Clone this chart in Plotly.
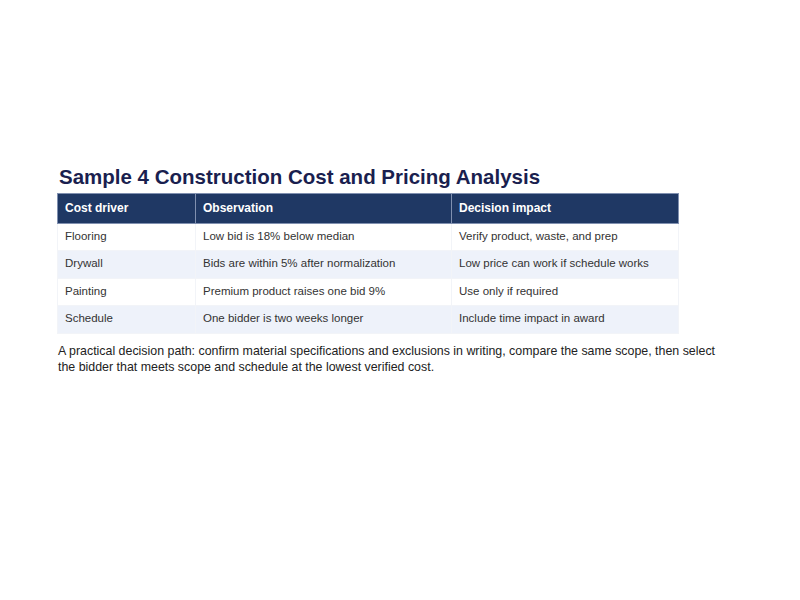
import plotly.graph_objects as go

title = "Sample 4 Construction Cost and Pricing Analysis"
columns = ["Cost driver", "Observation", "Decision impact"]
drivers = ["Flooring", "Drywall", "Painting", "Schedule"]
observations = [
    "Low bid is 18% below median",
    "Bids are within 5% after normalization",
    "Premium product raises one bid 9%",
    "One bidder is two weeks longer",
]
impacts = [
    "Verify product, waste, and prep",
    "Low price can work if schedule works",
    "Use only if required",
    "Include time impact in award",
]
note = ("A practical decision path: confirm material specifications and exclusions in writing, compare the same scope, then select<br>"
        "the bidder that meets scope and schedule at the lowest verified cost.")

row_fill = ["#ffffff", "#eef2fa"] * 2

# the page adds ~9px of offset, so positions are shifted back by that much
fig = go.Figure()
fig.add_trace(go.Table(
    domain=dict(x=[49 / 800, 670 / 800], y=[0.44, 1 - 185 / 600]),
    columnwidth=[138, 256, 227],
    header=dict(
        values=[f"<b>{c}</b>" for c in columns],
        fill_color="#1f3864",
        line_color="#8090b0",
        font=dict(family="Liberation Sans, Arial", size=12, color="white"),
        align="left",
        height=26,
    ),
    cells=dict(
        values=[drivers, observations, impacts],
        fill_color=[row_fill] * 3,
        line_color="#f2f4f8",
        font=dict(family="Liberation Sans, Arial", size=11.5, color="#333333"),
        align="left",
        height=27.5,
    ),
))

fig.add_annotation(text=f"<b>{title}</b>", x=49 / 800, y=1 - 168 / 600, xref="paper", yref="paper",
                   xanchor="left", yanchor="middle", showarrow=False,
                   font=dict(family="Liberation Sans, Arial", size=20.5, color="#1a1f4f"))
fig.add_annotation(text=note, x=48 / 800, y=1 - 351 / 600, xref="paper", yref="paper",
                   xanchor="left", yanchor="middle", showarrow=False, align="left",
                   font=dict(family="Liberation Sans, Arial", size=12.4, color="#222222"))

fig.update_layout(width=800, height=600, margin=dict(l=0, r=0, t=0, b=0),
                  paper_bgcolor="white", plot_bgcolor="white")
fig.write_html("out.html")
